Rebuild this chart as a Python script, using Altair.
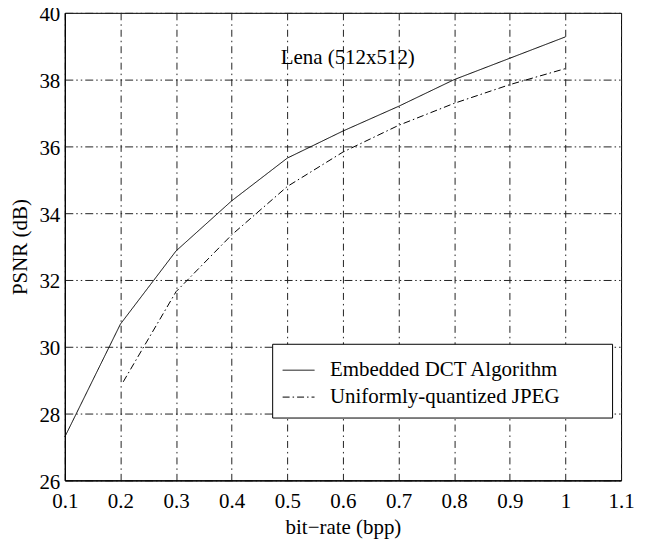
import altair as alt
import pandas as pd

# ---- data ----
series_names = ["Embedded DCT Algorithm", "Uniformly-quantized JPEG"]

dct_rate = [0.1, 0.2, 0.3, 0.4, 0.5, 0.6, 0.7, 0.8, 0.9, 1.0]
dct_psnr = [27.3, 30.68, 32.87, 34.37, 35.65, 36.46, 37.2, 38.0, 38.64, 39.28]

jpeg_rate = [0.205, 0.3, 0.4, 0.5, 0.6, 0.7, 0.8, 0.9, 1.0]
jpeg_psnr = [28.95, 31.65, 33.35, 34.8, 35.83, 36.63, 37.29, 37.85, 38.33]

x_ticks = [0.1, 0.2, 0.3, 0.4, 0.5, 0.6, 0.7, 0.8, 0.9, 1.0, 1.1]
y_ticks = [26, 28, 30, 32, 34, 36, 38, 40]

annotation = "Lena (512x512)"
annot_x = [0.488]
annot_y = [38.48]

FONT = "Liberation Serif"

rows = []
for r, p in zip(dct_rate, dct_psnr):
    rows.append({"rate": r, "psnr": p, "series": series_names[0], "order": r})
for r, p in zip(jpeg_rate, jpeg_psnr):
    rows.append({"rate": r, "psnr": p, "series": series_names[1], "order": r})
df = pd.DataFrame(rows)

xscale = alt.Scale(domain=[0.1, 1.1], nice=False, zero=False)
yscale = alt.Scale(domain=[26, 40], nice=False, zero=False)

# trailing blank space so the legend frame is as wide as in the reference
pad_label = "datum.label + '" + "\u00a0" * 8 + "\u200b'"

lines = alt.Chart(df).mark_line(strokeWidth=1, color="black").encode(
    x=alt.X("rate:Q", scale=xscale,
            axis=alt.Axis(values=x_ticks, format="~g", title="bit\u2212rate (bpp)")),
    y=alt.Y("psnr:Q", scale=yscale,
            axis=alt.Axis(values=y_ticks, title="PSNR (dB)")),
    order="order:Q",
    strokeDash=alt.StrokeDash(
        "series:N",
        scale=alt.Scale(domain=series_names, range=[[1, 0], [7, 3, 1.5, 3]]),
        legend=alt.Legend(
            title=None,
            orient="none",
            legendX=208,
            legendY=332,
            symbolType="stroke",
            symbolSize=1024,
            symbolStrokeWidth=1,
            symbolStrokeColor="black",
            labelFont=FONT,
            labelFontSize=21,
            labelColor="black",
            labelOffset=15,
            labelLimit=500,
            labelExpr=pad_label,
            padding=10,
            rowPadding=-4,
            strokeColor="black",
            fillColor="white",
            cornerRadius=0,
        ),
    ),
)

text_df = pd.DataFrame({"x": annot_x, "y": annot_y, "t": [annotation]})
label = alt.Chart(text_df).mark_text(
    align="left", baseline="alphabetic", font=FONT, fontSize=21, color="black"
).encode(x=alt.X("x:Q", scale=xscale), y=alt.Y("y:Q", scale=yscale), text="t:N")

chart = (
    alt.layer(lines, label)
    .properties(
        width=558,
        height=469,
        autosize=alt.AutoSizeParams(type="none"),
        padding={"left": 57, "top": 4, "right": 16, "bottom": 59},
        background="white",
    )
    .configure_view(stroke="black", strokeWidth=1)
    .configure_axis(
        labelFont=FONT,
        labelFontSize=21,
        labelColor="black",
        labelFlush=False,
        titleFont=FONT,
        titleFontSize=21,
        titleFontWeight="normal",
        titleColor="black",
        domainColor="black",
        domainWidth=1.2,
        ticks=False,
        grid=True,
        gridColor="#222222",
        gridWidth=1,
        gridOpacity=1,
    )
    .configure_axisX(gridDash=[7, 4, 1.5, 4], labelPadding=10, titlePadding=5)
    .configure_axisY(gridDash=[8, 3, 1.5, 3, 1.5, 3], labelPadding=5,
                     labelOffset=2, titlePadding=8)
)

chart.save("out.html", embed_options={"renderer": "svg", "actions": False})
